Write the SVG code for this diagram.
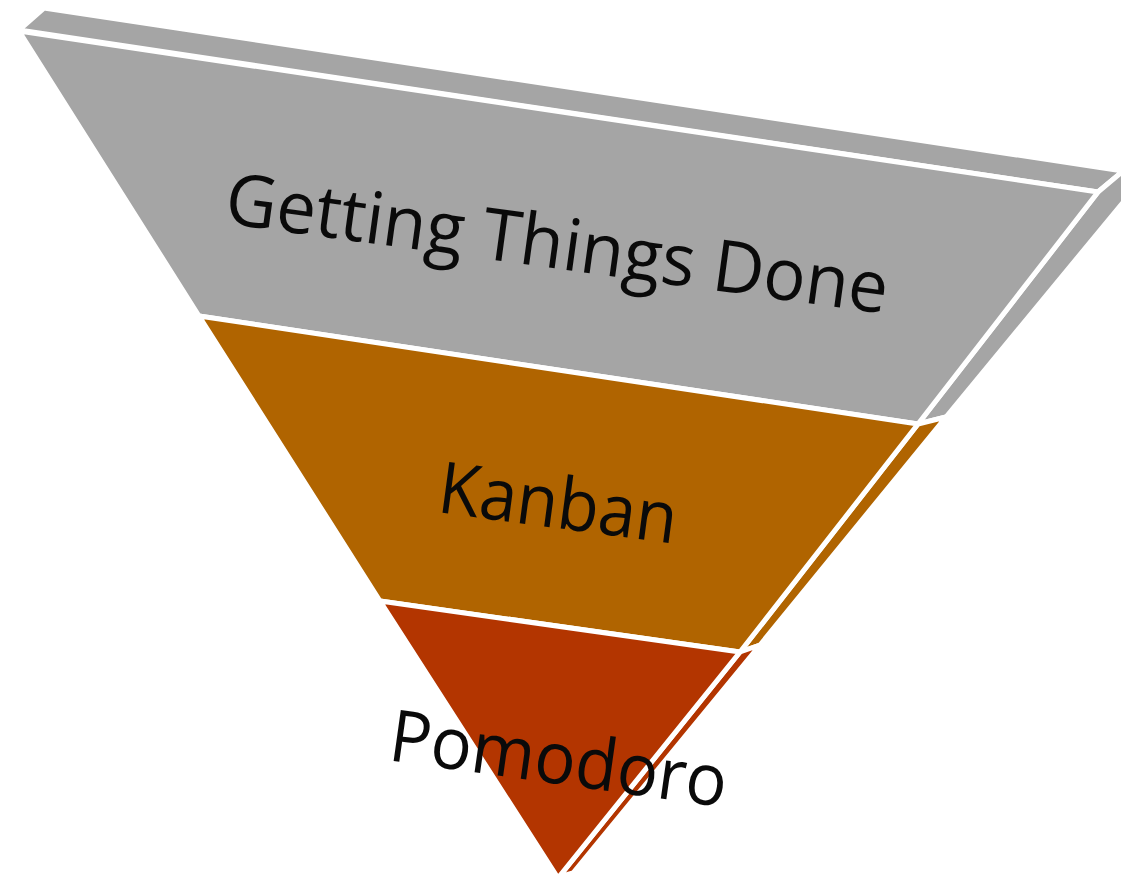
<svg xmlns="http://www.w3.org/2000/svg" width="1121" height="883" viewBox="0 0 1121 883">
  <style>
    .face { stroke: #ffffff; stroke-width: 5; stroke-linejoin: round; }
    .gray { fill: #a5a5a5; }
    .amber { fill: #b06400; }
    .rust { fill: #b33500; }
    .label { font-family: "Open Sans", "Noto Sans", sans-serif; font-size: 72px; fill: #0a0a0a; }
  </style>
  <rect width="1121" height="883" fill="#ffffff"/>

  <!-- top slab of the funnel -->
  <g id="top-face">
    <polygon class="face gray" points="19,30 44,8 1123,171 1098,192"/>
  </g>

  <!-- layer 1 -->
  <g id="layer-gtd">
    <polygon class="face gray" points="1098,192 1123,171 1158,160 946,417 918,424"/>
    <polygon class="face gray" points="19,31 1098,192 918,424 199,316"/>
    <text class="label" x="223" y="223" textLength="668" lengthAdjust="spacingAndGlyphs" transform="rotate(7.8 223 223)">Getting Things Done</text>
  </g>

  <!-- layer 2 -->
  <g id="layer-kanban">
    <polygon class="face amber" points="918,424 946,417 760,645 740,652"/>
    <polygon class="face amber" points="199,316 918,424 740,652 380,601"/>
    <text class="label" x="436" y="512" textLength="240" lengthAdjust="spacingAndGlyphs" transform="rotate(7.6 436 512)">Kanban</text>
  </g>

  <!-- layer 3 -->
  <g id="layer-pomodoro">
    <polygon class="face rust" points="740,652 760,645 573,873 559,877"/>
    <polygon class="face rust" points="380,601 740,652 558,878"/>
    <text class="label" x="387" y="760" textLength="340" lengthAdjust="spacingAndGlyphs" transform="rotate(8 387 760)">Pomodoro</text>
  </g>

  <g id="connectors"/>
</svg>
